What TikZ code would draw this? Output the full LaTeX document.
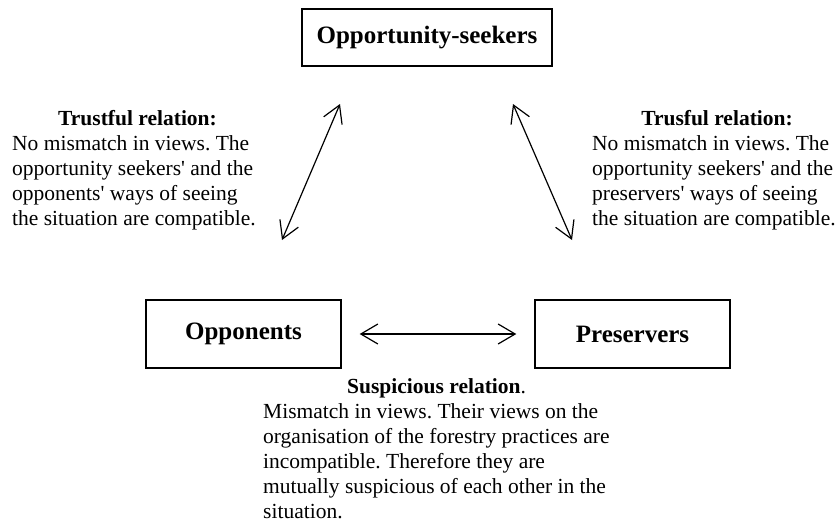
\documentclass[tikz,border=0pt]{standalone}
\usepackage{fontspec}
\setmainfont{Liberation Serif}
\usetikzlibrary{arrows.meta}
\frenchspacing
\tikzset{
  boxnode/.style={draw, line width=1.4pt, inner sep=0pt, font=\fontsize{25}{30}\selectfont\bfseries},
  relarrow/.style={line width=1.2pt, {Straight Barb[length=17pt,width=20pt]}-{Straight Barb[length=17pt,width=20pt]}},
  bodytext/.style={inner sep=0pt, align=left, font=\fontsize{21.5}{25}\selectfont},
  titletext/.style={inner sep=0pt, font=\fontsize{21.5}{25}\selectfont\bfseries}
}
\newcommand{\apos}{\textquotesingle}
\begin{document}
\begin{tikzpicture}[x=1pt,y=-1pt]
\useasboundingbox[fill=white] (0,0) rectangle (835,522);
% boxes
\node[boxnode, minimum width=250pt, minimum height=57pt] (seek) at (427,37.5) {Opportunity-seekers};
\node[boxnode, minimum width=195pt, minimum height=68pt] (opp) at (243.5,334) {Opponents};
\node[boxnode, minimum width=195pt, minimum height=68pt] (pres) at (632.5,334) {Preservers};
% arrow ends
\coordinate (lt) at (340,104);
\coordinate (lb) at (282,240);
\coordinate (rt) at (513,104);
\coordinate (rb) at (572,240);
\draw[relarrow] (lt) -- (lb);
\draw[relarrow] (rt) -- (rb);
\draw[relarrow, shorten <=18pt, shorten >=18pt] (opp.east) -- (pres.west);
% texts (base anchor = baseline of the last line)
\node[titletext, anchor=base] (ltitle) at (137.5,125) {Trustful relation:};
\node[bodytext, anchor=base west] (lbody) at (12,225) {No mismatch in views. The\\opportunity seekers\apos{} and the\\opponents\apos{} ways of seeing\\the situation are compatible.};
\node[titletext, anchor=base] (rtitle) at (717,125) {Trusful relation:};
\node[bodytext, anchor=base west] (rbody) at (592,225) {No mismatch in views. The\\opportunity seekers\apos{} and the\\preservers\apos{} ways of seeing\\the situation are compatible.};
\node[bodytext, anchor=base west] (btitle) at (347,393) {\textbf{Suspicious relation}.};
\node[bodytext, anchor=base west] (bbody) at (263,518) {Mismatch in views. Their views on the\\organisation of the forestry practices are\\incompatible. Therefore they are\\mutually suspicious of each other in the\\situation.};
\end{tikzpicture}
\end{document}
